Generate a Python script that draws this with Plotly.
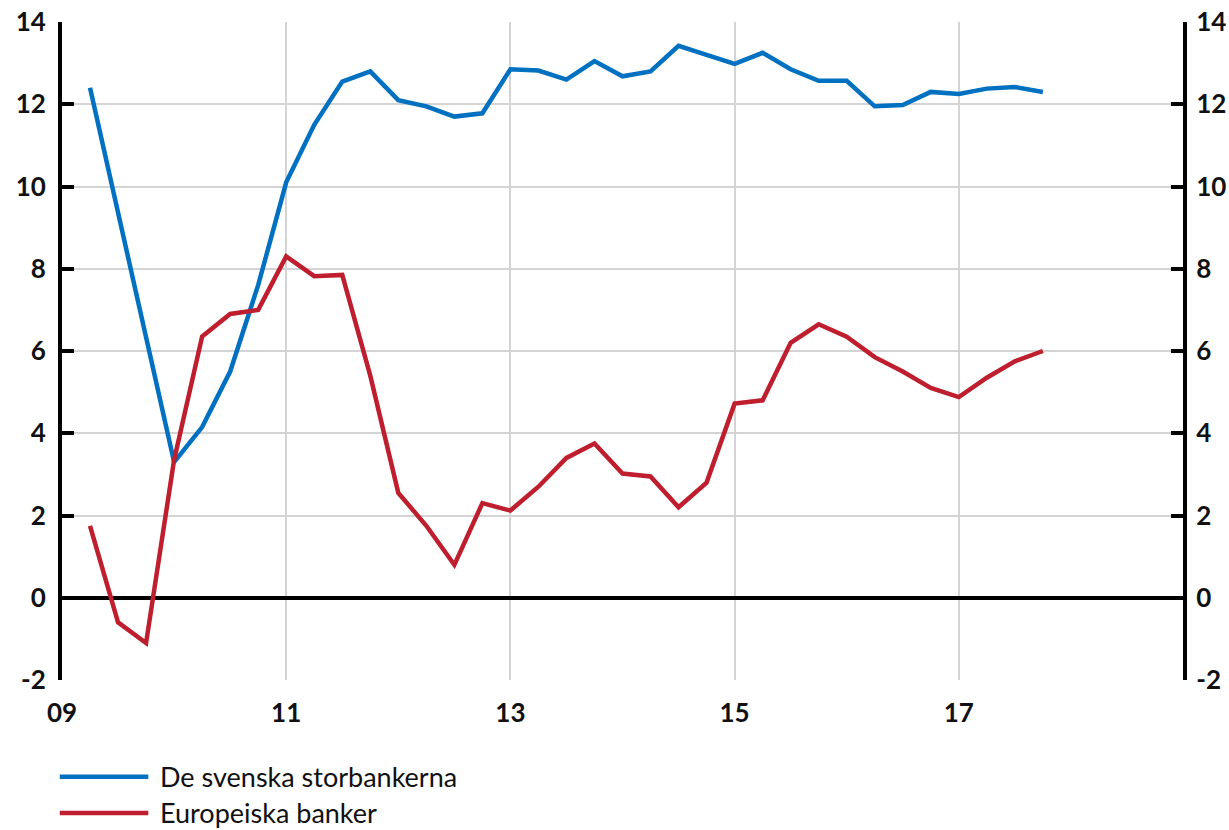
import plotly.graph_objects as go

quarters = [2009.25 + 0.25 * i for i in range(35)]

svenska = [12.4, None, None, 3.3, 4.15, 5.5, 7.6, 10.1, 11.5, 12.55, 12.8,
           12.1, 11.95, 11.7, 11.78, 12.85, 12.82, 12.6, 13.05, 12.68, 12.8,
           13.42, 13.2, 12.98, 13.25, 12.85, 12.57, 12.57, 11.95, 11.98, 12.3,
           12.25, 12.38, 12.42, 12.3]

europeiska = [1.75, -0.6, -1.1, 3.35, 6.35, 6.9, 7.0, 8.3, 7.82, 7.85, 5.4,
              2.55, 1.75, 0.8, 2.3, 2.12, 2.7, 3.4, 3.75, 3.02, 2.95,
              2.2, 2.8, 4.72, 4.8, 6.2, 6.65, 6.35, 5.85, 5.5, 5.1,
              4.88, 5.35, 5.75, 6.0]

x_tickvals = [2009, 2011, 2013, 2015, 2017]
x_ticktext = ["09", "11", "13", "15", "17"]
y_tickvals = [-2, 0, 2, 4, 6, 8, 10, 12, 14]
y_ticktext = ["-2", "0", "2", "4", "6", "8", "10", "12", "14"]

names = ["De svenska storbankerna", "Europeiska banker"]
colors = ["#0070C0", "#BE1E2D"]

FONT = "Lato"

fig = go.Figure()
fig.add_trace(go.Scatter(x=quarters, y=svenska, mode="lines", name=names[0],
                         line=dict(color=colors[0], width=4.5), connectgaps=True,
                         showlegend=False))
fig.add_trace(go.Scatter(x=quarters, y=europeiska, mode="lines", name=names[1],
                         line=dict(color=colors[1], width=4.5), yaxis="y2",
                         showlegend=False))

tickfont = dict(family=FONT, size=26, color="#111111", weight="bold")

fig.update_layout(
    width=1229, height=830,
    margin=dict(l=62, r=46, t=22, b=150, autoexpand=False),
    paper_bgcolor="white", plot_bgcolor="white",
    xaxis=dict(range=[2009, 2019], tickvals=x_tickvals, ticktext=x_ticktext,
               showgrid=True, gridcolor="#D4D4D4", gridwidth=2,
               showline=False, zeroline=False, ticks="", automargin=False,
               tickfont=tickfont, ticklabelstandoff=15),
    yaxis=dict(range=[-2, 14], tickvals=y_tickvals, ticktext=y_ticktext,
               showgrid=True, gridcolor="#D4D4D4", gridwidth=2,
               zeroline=True, zerolinecolor="black", zerolinewidth=4,
               showline=True, linecolor="black", linewidth=4, automargin=False,
               ticks="inside", ticklen=12, tickwidth=4, tickcolor="black",
               tickfont=tickfont, ticklabelstandoff=7),
    yaxis2=dict(range=[-2, 14], tickvals=y_tickvals, ticktext=y_ticktext,
                overlaying="y", side="right", automargin=False,
                showgrid=False, zeroline=False,
                showline=True, linecolor="black", linewidth=4,
                ticks="inside", ticklen=12, tickwidth=4, tickcolor="black",
                tickfont=tickfont, ticklabelstandoff=4),
)

# manual legend below the plot
legend_y = [-0.147, -0.202]
for i in range(2):
    fig.add_shape(type="line", xref="paper", yref="paper",
                  x0=-0.002, x1=0.077, y0=legend_y[i], y1=legend_y[i],
                  line=dict(color=colors[i], width=4.5))
    fig.add_annotation(xref="paper", yref="paper", x=0.086, y=legend_y[i],
                       text=names[i], showarrow=False, xanchor="left",
                       yanchor="middle",
                       font=dict(family=FONT, size=27, color="#111111"))

fig.write_html(
    "out.html",
    config={"displayModeBar": False},
    post_script="document.body.style.margin='0';document.body.style.overflow='hidden';",
)
